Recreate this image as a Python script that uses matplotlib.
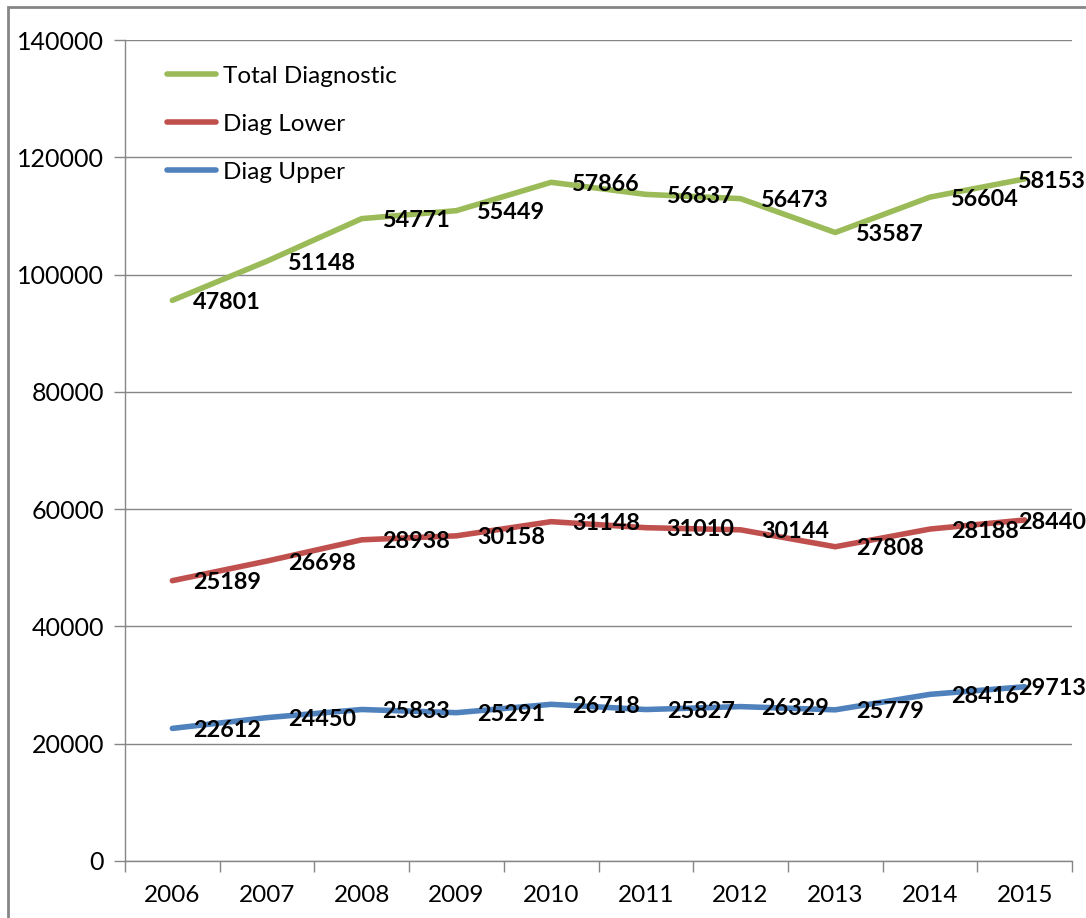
import matplotlib.pyplot as plt
from matplotlib.patches import Rectangle

# Дані (лінійна діаграма з накопиченням, як в Excel)
years = ['2006', '2007', '2008', '2009', '2010', '2011', '2012', '2013', '2014', '2015']
diag_upper = [22612, 24450, 25833, 25291, 26718, 25827, 26329, 25779, 28416, 29713]
diag_lower = [25189, 26698, 28938, 30158, 31148, 31010, 30144, 27808, 28188, 28440]
total_diag = [47801, 51148, 54771, 55449, 57866, 56837, 56473, 53587, 56604, 58153]

yticks = [0, 20000, 40000, 60000, 80000, 100000, 120000, 140000]

plt.rcParams['font.family'] = ['Lato', 'DejaVu Sans']

W, H = 1086, 918
fig = plt.figure(figsize=(W / 100, H / 100), dpi=100)
ax = fig.add_axes([125 / W, 1 - 861 / H, (1072 - 125) / W, (861 - 40) / H])

# рамка навколо діаграми
fig.patches.append(Rectangle((8 / W, -0.1), 1.2, 1 - 7 / H + 0.1, transform=fig.transFigure,
                             fill=False, edgecolor='#868686', linewidth=2))

x = list(range(len(years)))
stack1 = diag_upper
stack2 = [a + b for a, b in zip(diag_upper, diag_lower)]
stack3 = [a + b for a, b in zip(stack2, total_diag)]

series = [
    ('Total Diagnostic', stack3, total_diag, '#9BBB59'),
    ('Diag Lower', stack2, diag_lower, '#C0504D'),
    ('Diag Upper', stack1, diag_upper, '#4F81BD'),
]

for name, ys, vals, color in series:
    ax.plot(x, ys, color=color, linewidth=4, label=name, solid_capstyle='round', zorder=3)
    for i, (yy, v) in enumerate(zip(ys, vals)):
        dx = 15 if i < len(x) - 1 else -4.5
        ax.annotate(str(v), (i, yy), xytext=(dx, -1.5), textcoords='offset points',
                    ha='left', va='center', fontsize=16.8, fontweight='bold', color='black', zorder=4)

ax.set_xlim(-0.5, len(years) - 0.5)
ax.set_ylim(0, 140000)
ax.set_yticks(yticks)
ax.set_yticklabels([str(t) for t in yticks])
ax.yaxis.grid(True, color='#868686', linewidth=1)
ax.set_axisbelow(True)

ax.set_xticks([i - 0.5 for i in range(len(years) + 1)])
ax.set_xticklabels([])
ax.set_xticks(x, minor=True)
ax.set_xticklabels(years, minor=True)
ax.tick_params(axis='x', which='major', direction='out', length=8, color='#868686', width=1)
ax.tick_params(axis='x', which='minor', length=0, labelsize=17.5, pad=17)
ax.tick_params(axis='y', direction='out', length=8, color='#868686', width=1, labelsize=18, pad=7)

for s in ['top', 'right']:
    ax.spines[s].set_visible(False)
for s in ['left', 'bottom']:
    ax.spines[s].set_color('#868686')
    ax.spines[s].set_linewidth(1)

leg = ax.legend(loc='upper left', bbox_to_anchor=(0.0215, 0.995), frameon=False, fontsize=17.5,
                handlelength=2.0, handletextpad=0.3, labelspacing=1.11)

fig.savefig('out.png', dpi=100)
